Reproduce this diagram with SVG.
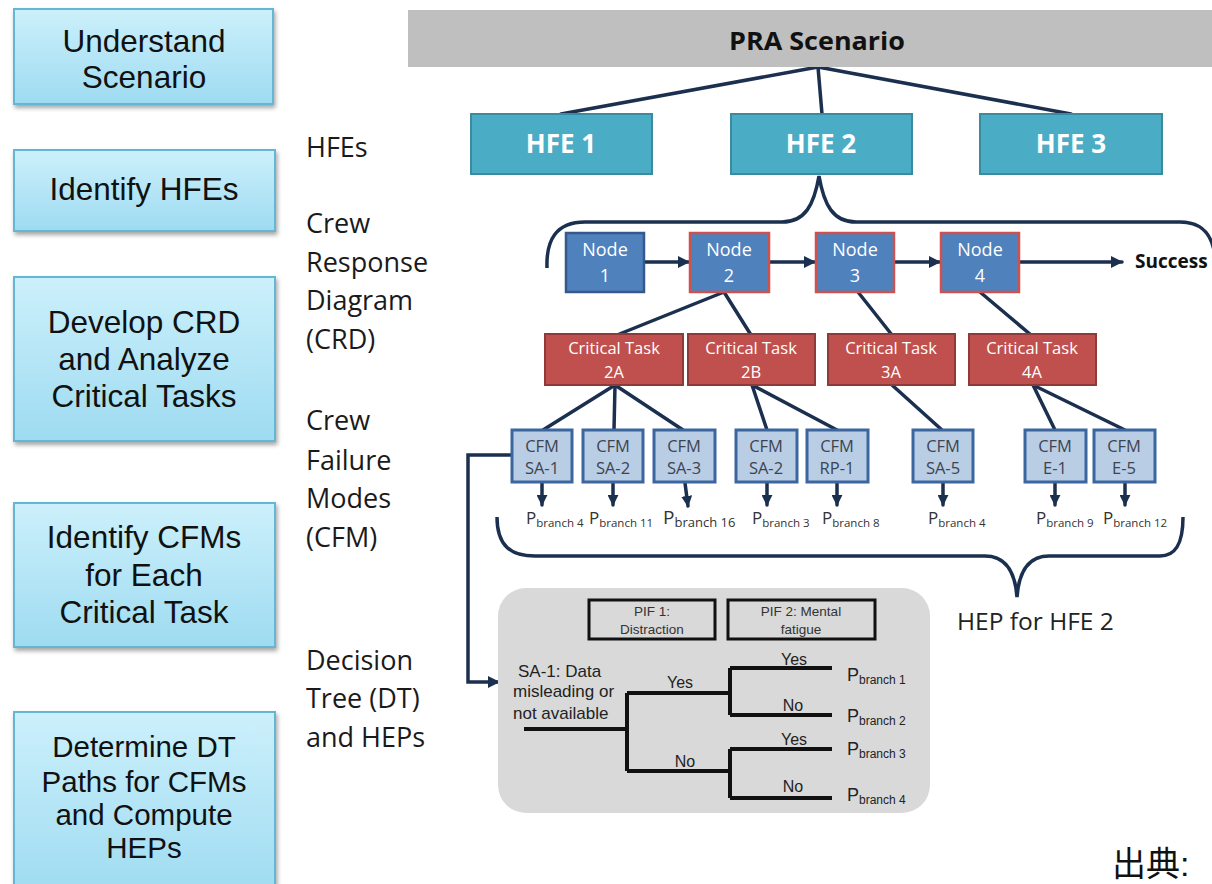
<svg xmlns="http://www.w3.org/2000/svg" width="1212" height="884" viewBox="0 0 1212 884">
<defs>
<linearGradient id="stepGrad" x1="0" y1="0" x2="0" y2="1">
<stop offset="0" stop-color="#ccf0fb"/>
<stop offset="1" stop-color="#9edbf1"/>
</linearGradient>
<filter id="shadow" x="-10%" y="-10%" width="125%" height="130%">
<feDropShadow dx="1.5" dy="3" stdDeviation="2" flood-color="#000" flood-opacity="0.35"/>
</filter>
<marker id="arrow" viewBox="0 0 12 12" refX="11" refY="6" markerWidth="12" markerHeight="12" markerUnits="userSpaceOnUse" orient="auto">
<path d="M0,0 L12,6 L0,12 z" fill="#1b2f4f"/>
</marker>
<marker id="arrowS" viewBox="0 0 12 12" refX="11" refY="6" markerWidth="11" markerHeight="11" markerUnits="userSpaceOnUse" orient="auto">
<path d="M0,0 L12,6 L0,12 z" fill="#1b2f4f"/>
</marker>
</defs>
<style>
.step{fill:url(#stepGrad);stroke:#63b6d4;stroke-width:2;filter:url(#shadow)}
.stepT{font-family:"Liberation Sans",Arial,sans-serif;font-size:31.5px;fill:#111;text-anchor:middle}
.lab{font-family:"Open Sans","Liberation Sans",sans-serif;font-size:27px;fill:#1a1a1a}
.hfe{fill:#4bacc6;stroke:#3a8aa0;stroke-width:2}
.hfeT{font-family:"Open Sans","Liberation Sans",sans-serif;font-weight:bold;font-size:26px;fill:#fff;text-anchor:middle}
.node{fill:#4f81bd;stroke:#d0504c;stroke-width:2.5}
.node1{fill:#4f81bd;stroke:#34598a;stroke-width:2.5}
.nodeT{font-family:"Open Sans","Liberation Sans",sans-serif;font-size:18px;fill:#fff;text-anchor:middle}
.ct{fill:#c0504d;stroke:#8e3a38;stroke-width:2}
.ctT{font-family:"Open Sans","Liberation Sans",sans-serif;font-size:16.5px;fill:#fff;text-anchor:middle}
.cfm{fill:#b9cde5;stroke:#3c66a0;stroke-width:3}
.cfmT{font-family:"Open Sans","Liberation Sans",sans-serif;font-size:16.5px;fill:#3d4450;text-anchor:middle}
.conn{fill:none;stroke:#1b2f4f;stroke-width:3.5;stroke-linecap:round}
.brace{fill:none;stroke:#1b2f4f;stroke-width:3.5}
.pl{font-family:"Open Sans","Liberation Sans",sans-serif;font-size:17px;fill:#333}
.sub{font-size:11.5px}
.dtT{font-family:"Liberation Sans",Arial,sans-serif;font-size:17px;fill:#222}
.dtS{font-family:"Liberation Sans",Arial,sans-serif;font-size:16px;fill:#222;text-anchor:middle}
.pif{fill:none;stroke:#111;stroke-width:3}
.pifT{font-family:"Liberation Sans",Arial,sans-serif;font-size:13.5px;fill:#333;text-anchor:middle}
.tree{fill:none;stroke:#111;stroke-width:4}
</style>

<!-- Left process steps -->
<g id="step1"><rect class="step" x="14" y="9" width="259" height="95"/><text class="stepT" x="144" y="52">Understand</text><text class="stepT" x="144" y="88">Scenario</text></g>
<g id="step2"><rect class="step" x="14" y="150" width="261" height="81"/><text class="stepT" x="144" y="200">Identify HFEs</text></g>
<g id="step3"><rect class="step" x="14" y="277" width="261" height="164"/><text class="stepT" x="144" y="333">Develop CRD</text><text class="stepT" x="144" y="370">and Analyze</text><text class="stepT" x="144" y="407">Critical Tasks</text></g>
<g id="step4"><rect class="step" x="14" y="503" width="261" height="144"/><text class="stepT" x="144" y="548">Identify CFMs</text><text class="stepT" x="144" y="586">for Each</text><text class="stepT" x="144" y="623">Critical Task</text></g>
<g id="step5"><rect class="step" x="14" y="712" width="261" height="185"/><text class="stepT" x="144" y="757" style="font-size:29.5px">Determine DT</text><text class="stepT" x="144" y="792" style="font-size:29.5px">Paths for CFMs</text><text class="stepT" x="144" y="825" style="font-size:29.5px">and Compute</text><text class="stepT" x="144" y="858" style="font-size:29.5px">HEPs</text></g>

<!-- Middle column labels -->
<g id="labels">
<text class="lab" x="306" y="157">HFEs</text>
<text class="lab" x="306" y="233">Crew</text>
<text class="lab" x="306" y="272">Response</text>
<text class="lab" x="306" y="310">Diagram</text>
<text class="lab" x="306" y="349">(CRD)</text>
<text class="lab" x="306" y="430">Crew</text>
<text class="lab" x="306" y="470">Failure</text>
<text class="lab" x="306" y="508">Modes</text>
<text class="lab" x="306" y="547">(CFM)</text>
<text class="lab" x="306" y="670">Decision</text>
<text class="lab" x="306" y="708">Tree (DT)</text>
<text class="lab" x="306" y="747">and HEPs</text>
</g>

<!-- Connectors -->
<g id="connectors">
<line class="conn" x1="818" y1="67" x2="561" y2="114"/>
<line class="conn" x1="818" y1="67" x2="822" y2="114"/>
<line class="conn" x1="818" y1="67" x2="1071" y2="114"/>
<path class="brace" d="M547 268 C546 240 556 222 585 222 L782 222 C805 222 814 205 819 176 C824 205 833 222 856 222 L1180 222 C1200 222 1210 232 1214 250"/>
<line class="conn" x1="645" y1="262" x2="689" y2="262" marker-end="url(#arrow)"/>
<line class="conn" x1="769" y1="262" x2="815" y2="262" marker-end="url(#arrow)"/>
<line class="conn" x1="894" y1="262" x2="940" y2="262" marker-end="url(#arrow)"/>
<line class="conn" x1="1019" y1="262" x2="1122" y2="262" marker-end="url(#arrow)"/>
<line class="conn" x1="724" y1="292" x2="617" y2="335"/>
<line class="conn" x1="724" y1="292" x2="751" y2="335"/>
<line class="conn" x1="858" y1="292" x2="892" y2="335"/>
<line class="conn" x1="980" y1="292" x2="1031" y2="335"/>
<line class="conn" x1="615" y1="385" x2="543" y2="430"/>
<line class="conn" x1="615" y1="385" x2="614" y2="430"/>
<line class="conn" x1="615" y1="385" x2="683" y2="430"/>
<line class="conn" x1="752" y1="385" x2="767" y2="430"/>
<line class="conn" x1="752" y1="385" x2="837" y2="430"/>
<line class="conn" x1="892" y1="385" x2="942" y2="430"/>
<line class="conn" x1="1033" y1="385" x2="1055" y2="430"/>
<line class="conn" x1="1033" y1="385" x2="1125" y2="430"/>
<line class="conn" x1="542" y1="483" x2="542" y2="505" marker-end="url(#arrowS)"/>
<line class="conn" x1="613" y1="483" x2="613" y2="505" marker-end="url(#arrowS)"/>
<line class="conn" x1="685" y1="483" x2="688" y2="506" marker-end="url(#arrowS)"/>
<line class="conn" x1="767" y1="483" x2="767" y2="505" marker-end="url(#arrowS)"/>
<line class="conn" x1="837" y1="483" x2="837" y2="505" marker-end="url(#arrowS)"/>
<line class="conn" x1="943" y1="483" x2="943" y2="505" marker-end="url(#arrowS)"/>
<line class="conn" x1="1055" y1="483" x2="1055" y2="505" marker-end="url(#arrowS)"/>
<line class="conn" x1="1125" y1="483" x2="1125" y2="505" marker-end="url(#arrowS)"/>
<path class="brace" d="M497 517 C497 545 510 556 535 556 L985 556 C1005 556 1015 570 1017 597 C1019 570 1029 556 1049 556 L1160 556 C1175 556 1183 545 1183 517"/>
<path class="conn" style="stroke-linecap:butt" d="M512 455 H468 V682 H499" marker-end="url(#arrow)"/>
</g>

<!-- PRA Scenario -->
<g id="pra"><rect x="408" y="10" width="810" height="57" fill="#bfbfbf"/><text x="817" y="50" style="font-family:'Open Sans','Liberation Sans',sans-serif;font-weight:bold;font-size:25px;fill:#111;text-anchor:middle" textLength="176" lengthAdjust="spacingAndGlyphs">PRA Scenario</text></g>

<!-- HFEs -->
<g id="hfe1"><rect class="hfe" x="471" y="114" width="181" height="60"/><text class="hfeT" x="561" y="153">HFE 1</text></g>
<g id="hfe2"><rect class="hfe" x="731" y="114" width="181" height="60"/><text class="hfeT" x="821" y="153">HFE 2</text></g>
<g id="hfe3"><rect class="hfe" x="980" y="114" width="182" height="60"/><text class="hfeT" x="1071" y="153">HFE 3</text></g>

<!-- Nodes -->
<g id="node1"><rect class="node1" x="566" y="233" width="78" height="59"/><text class="nodeT" x="605" y="256">Node</text><text class="nodeT" x="605" y="282">1</text></g>
<g id="node2"><rect class="node" x="690" y="233" width="79" height="59"/><text class="nodeT" x="729" y="256">Node</text><text class="nodeT" x="729" y="282">2</text></g>
<g id="node3"><rect class="node" x="816" y="233" width="78" height="59"/><text class="nodeT" x="855" y="256">Node</text><text class="nodeT" x="855" y="282">3</text></g>
<g id="node4"><rect class="node" x="941" y="233" width="78" height="59"/><text class="nodeT" x="980" y="256">Node</text><text class="nodeT" x="980" y="282">4</text></g>
<g id="success"><text x="1135" y="268" style="font-family:'Open Sans','Liberation Sans',sans-serif;font-weight:bold;font-size:19px;fill:#111">Success</text></g>

<!-- Critical tasks -->
<g id="ct2a"><rect class="ct" x="545" y="334" width="138" height="51"/><text class="ctT" x="614" y="354">Critical Task</text><text class="ctT" x="614" y="378">2A</text></g>
<g id="ct2b"><rect class="ct" x="688" y="334" width="127" height="51"/><text class="ctT" x="751" y="354">Critical Task</text><text class="ctT" x="751" y="378">2B</text></g>
<g id="ct3a"><rect class="ct" x="828" y="334" width="127" height="51"/><text class="ctT" x="891" y="354">Critical Task</text><text class="ctT" x="891" y="378">3A</text></g>
<g id="ct4a"><rect class="ct" x="969" y="334" width="127" height="51"/><text class="ctT" x="1032" y="354">Critical Task</text><text class="ctT" x="1032" y="378">4A</text></g>

<!-- CFMs -->
<g id="cfm1"><rect class="cfm" x="512" y="430" width="60" height="52"/><text class="cfmT" x="542" y="452">CFM</text><text class="cfmT" x="542" y="474">SA-1</text></g>
<g id="cfm2"><rect class="cfm" x="583" y="430" width="60" height="52"/><text class="cfmT" x="613" y="452">CFM</text><text class="cfmT" x="613" y="474">SA-2</text></g>
<g id="cfm3"><rect class="cfm" x="654" y="430" width="61" height="52"/><text class="cfmT" x="684" y="452">CFM</text><text class="cfmT" x="684" y="474">SA-3</text></g>
<g id="cfm4"><rect class="cfm" x="736" y="430" width="61" height="52"/><text class="cfmT" x="766" y="452">CFM</text><text class="cfmT" x="766" y="474">SA-2</text></g>
<g id="cfm5"><rect class="cfm" x="807" y="430" width="61" height="52"/><text class="cfmT" x="837" y="452">CFM</text><text class="cfmT" x="837" y="474">RP-1</text></g>
<g id="cfm6"><rect class="cfm" x="913" y="430" width="60" height="52"/><text class="cfmT" x="943" y="452">CFM</text><text class="cfmT" x="943" y="474">SA-5</text></g>
<g id="cfm7"><rect class="cfm" x="1025" y="430" width="61" height="52"/><text class="cfmT" x="1055" y="452">CFM</text><text class="cfmT" x="1055" y="474">E-1</text></g>
<g id="cfm8"><rect class="cfm" x="1094" y="430" width="61" height="52"/><text class="cfmT" x="1124" y="452">CFM</text><text class="cfmT" x="1124" y="474">E-5</text></g>

<!-- branch probabilities -->
<g id="pbranches">
<text class="pl" x="526" y="524">P<tspan class="sub" dy="3">branch 4</tspan></text>
<text class="pl" x="589" y="524">P<tspan class="sub" dy="3">branch 11</tspan></text>
<text class="pl" x="663" y="524" style="font-size:19px">P<tspan style="font-size:13px" dy="3">branch 16</tspan></text>
<text class="pl" x="752" y="524">P<tspan class="sub" dy="3">branch 3</tspan></text>
<text class="pl" x="822" y="524">P<tspan class="sub" dy="3">branch 8</tspan></text>
<text class="pl" x="928" y="524">P<tspan class="sub" dy="3">branch 4</tspan></text>
<text class="pl" x="1036" y="524">P<tspan class="sub" dy="3">branch 9</tspan></text>
<text class="pl" x="1103" y="524">P<tspan class="sub" dy="3">branch 12</tspan></text>
</g>

<g id="hep"><text x="957" y="630" style="font-family:'Open Sans','Liberation Sans',sans-serif;font-size:24.5px;fill:#222">HEP for HFE 2</text></g>

<!-- Decision tree -->
<g id="decisionTree">
<rect x="498" y="588" width="432" height="225" rx="28" ry="28" fill="#d9d9d9"/>
<rect class="pif" x="589" y="600" width="126" height="39"/>
<text class="pifT" x="652" y="616">PIF 1:</text>
<text class="pifT" x="652" y="634">Distraction</text>
<rect class="pif" x="728" y="600" width="147" height="39"/>
<text class="pifT" x="801" y="616">PIF 2: Mental</text>
<text class="pifT" x="801" y="634">fatigue</text>
<path class="tree" d="M524 729 H627 M627 693 V771 M627 693 H730 M627 771 H730 M730 668 V715 M730 668 H832 M730 715 H832 M730 749 V798 M730 749 H832 M730 798 H832"/>
<text class="dtT" x="518" y="677">SA-1: Data</text>
<text class="dtT" x="513" y="697">misleading or</text>
<text class="dtT" x="513" y="719">not available</text>
<text class="dtS" x="680" y="688">Yes</text>
<text class="dtS" x="685" y="767">No</text>
<text class="dtS" x="794" y="665">Yes</text>
<text class="dtS" x="793" y="711">No</text>
<text class="dtS" x="794" y="745">Yes</text>
<text class="dtS" x="793" y="792">No</text>
<text class="dtT" x="847" y="681" style="font-size:18px">P<tspan style="font-size:12px" dy="3">branch 1</tspan></text>
<text class="dtT" x="847" y="722" style="font-size:18px">P<tspan style="font-size:12px" dy="3">branch 2</tspan></text>
<text class="dtT" x="847" y="755" style="font-size:18px">P<tspan style="font-size:12px" dy="3">branch 3</tspan></text>
<text class="dtT" x="847" y="801" style="font-size:18px">P<tspan style="font-size:12px" dy="3">branch 4</tspan></text>
</g>

<g id="source"><text x="1112" y="876" style="font-family:'Liberation Sans','Noto Sans CJK JP',sans-serif;font-size:34px;fill:#111">出典:</text></g>
</svg>
